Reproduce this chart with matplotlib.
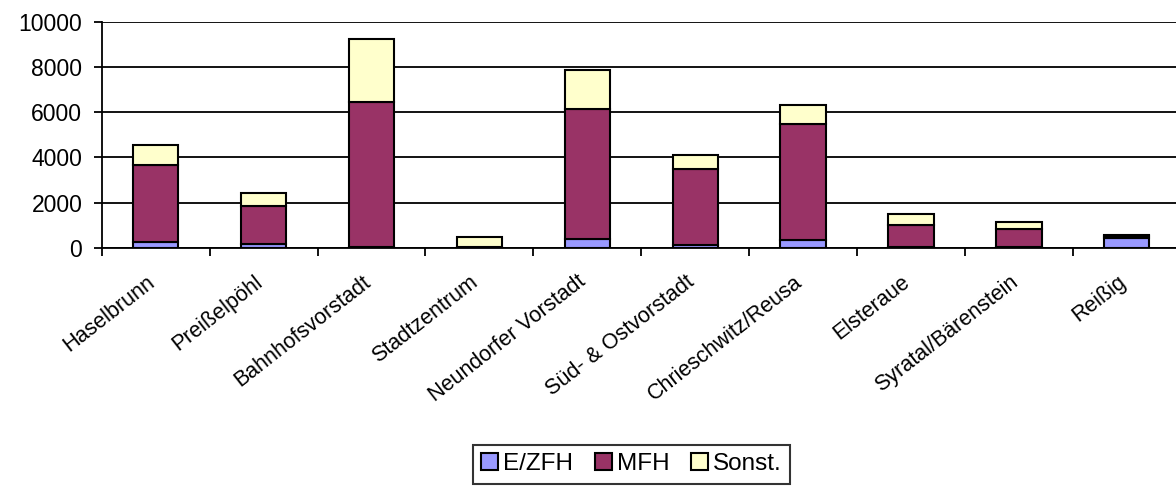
import matplotlib
matplotlib.use('Agg')
import matplotlib.pyplot as plt
import matplotlib.transforms as mtransforms
import numpy as np

# Stadtteile und Wohnungen je Gebäudetyp
stadtteile = ['Haselbrunn', 'Preißelpöhl', 'Bahnhofsvorstadt', 'Stadtzentrum',
              'Neundorfer Vorstadt', 'Süd- & Ostvorstadt', 'Chrieschwitz/Reusa',
              'Elsteraue', 'Syratal/Bärenstein', 'Reißig']
ezfh = [240, 150, 20, 10, 390, 120, 330, 40, 40, 420]
mfh = [3440, 1710, 6440, 20, 5750, 3360, 5160, 980, 800, 90]
sonst = [890, 570, 2780, 430, 1740, 630, 840, 490, 300, 60]

plt.rcParams['font.family'] = ['Liberation Sans', 'DejaVu Sans']

fig = plt.figure(figsize=(11.76, 4.86), dpi=100)
ax = fig.add_axes([0.0865, 0.4903, 0.9175, 0.4644])

x = np.arange(len(stadtteile))
breite = 0.42
kw = dict(width=breite, edgecolor='black', linewidth=1.5, zorder=3)
ax.bar(x, ezfh, color='#9999FF', label='E/ZFH', **kw)
ax.bar(x, mfh, bottom=ezfh, color='#993366', label='MFH', **kw)
unten = np.array(ezfh) + np.array(mfh)
ax.bar(x, sonst, bottom=unten, color='#FFFFCC', label='Sonst.', **kw)

# Achsen
ax.set_xlim(-0.5, len(stadtteile) - 0.5)
ax.set_ylim(0, 10000)
ax.set_yticks(range(0, 10001, 2000))
ax.yaxis.grid(True, color='black', linewidth=1.3, zorder=0)
ax.set_axisbelow(True)
for s in ['top', 'right']:
    ax.spines[s].set_visible(False)
ax.spines['left'].set_linewidth(1.3)
ax.spines['bottom'].set_linewidth(1.3)
ax.tick_params(axis='y', labelsize=16.5, length=6, width=1.3, pad=8)

ax.set_xticks(x)
ax.set_xticklabels(stadtteile, rotation=38, ha='right', va='top',
                   rotation_mode='anchor', fontsize=15.5)
ax.tick_params(axis='x', length=0, pad=17)
# Beschriftungen etwas nach links ruecken
versatz = mtransforms.ScaledTranslation(-10 / 100, 0, fig.dpi_scale_trans)
for lbl in ax.get_xticklabels():
    lbl.set_transform(lbl.get_transform() + versatz)
ax.set_xticks(np.arange(-0.5, len(stadtteile), 1.0), minor=True)
ax.tick_params(axis='x', which='minor', length=6, width=1.3)

# Legende unten
leg = fig.legend(loc='lower center', bbox_to_anchor=(0.537, -0.02), ncol=3,
                 fontsize=17.5, frameon=True, fancybox=False, edgecolor='black',
                 handlelength=0.7, handleheight=0.7, handletextpad=0.2,
                 columnspacing=0.9, borderpad=0.35)
leg.get_frame().set_linewidth(1.5)

fig.savefig('out.png', dpi=100)
